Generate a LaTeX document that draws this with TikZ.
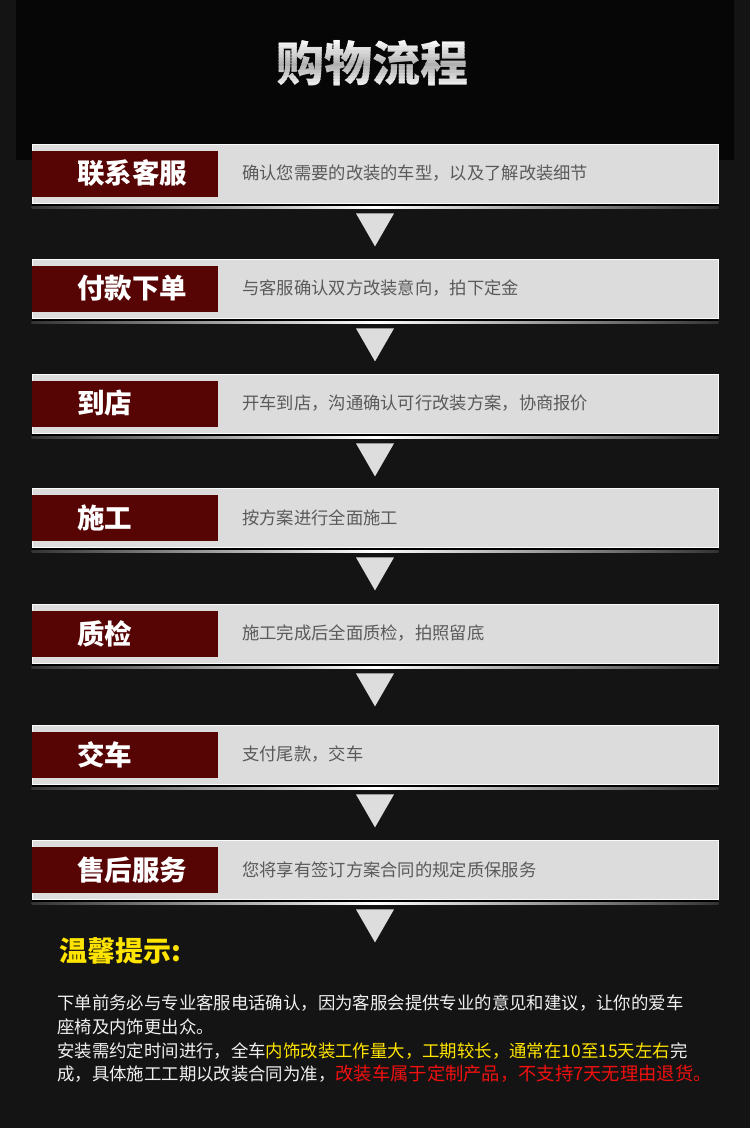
\documentclass[tikz,border=0pt]{standalone}
\usepackage{fontspec}
\newfontfamily\cjk{Noto Sans CJK SC}
\usetikzlibrary{calc}
\definecolor{bgdark}{HTML}{141414}
\definecolor{topblack}{HTML}{060606}
\definecolor{labred}{HTML}{560404}
\definecolor{lightbox}{HTML}{DCDCDC}
\definecolor{desccol}{HTML}{5A5A5A}
\definecolor{arrowcol}{HTML}{DDDDDD}
\definecolor{tipyellow}{HTML}{FFE400}
\definecolor{tipred}{HTML}{F01010}
\definecolor{tipwhite}{HTML}{F0F0F0}
\tikzset{
  stepbox/.style={fill=lightbox, draw=white!90!lightbox, line width=0.8pt, inner sep=0pt, minimum width=686pt, minimum height=59pt},
  redbox/.style={fill=labred, inner sep=0pt, minimum width=186pt, minimum height=46pt},
  labtext/.style={inner sep=0pt, text=white, font=\cjk\bfseries\fontsize{27.5}{30}\selectfont},
  desctext/.style={inner sep=0pt, text=desccol, font=\cjk\fontsize{17.3}{20}\selectfont},
  titletext/.style={inner sep=0pt, font=\cjk\bfseries\fontsize{48}{52}\selectfont},
  tiptext/.style={inner sep=0pt, text=tipwhite, font=\cjk\fontsize{17.4}{20}\selectfont},
  arrowtri/.style={fill=arrowcol}
}
\begin{document}
\begin{tikzpicture}[x=1pt,y=-1pt]
\useasboundingbox (0,0) rectangle (750,1128);
\fill[bgdark] (0,0) rectangle (750,1128);
\fill[topblack] (16,0) rectangle (734,160);
% title with metallic banding
\foreach \k in {0,...,15}{
  \pgfmathsetmacro\yy{38+\k*3.2}
  \pgfmathsetmacro\p{100-62*(1-abs(\k-8)/8)}
  \begin{scope}
    \clip (240,\yy) rectangle (510,\yy+3.3);
    \node[titletext, text=white!\p!gray] (title\k) at (372,63) {购物流程};
  \end{scope}
}
\foreach \i/\t/\lab/\desc in {
 1/144/联系客服/确认您需要的改装的车型，以及了解改装细节,
 2/259/付款下单/与客服确认双方改装意向，拍下定金,
 3/374/到店/开车到店，沟通确认可行改装方案，协商报价,
 4/488/施工/按方案进行全面施工,
 5/604/质检/施工完成后全面质检，拍照留底,
 6/725/交车/支付尾款，交车,
 7/840/售后服务/您将享有签订方案合同的规定质保服务}{
  \node[stepbox] (box\i) at (375,\t+29.5) {};
  \node[redbox, anchor=west] (lab\i) at (32,\t+29.5) {};
  \node[labtext, anchor=west] (labt\i) at (77,\t+29.5) {\lab};
  \node[desctext, anchor=west] (desc\i) at (242,\t+29.5) {\desc};
  \fill[black] ($(box\i.south west)+(0,0.5)$) rectangle ($(box\i.south east)+(0,6)$);
  \shade[left color=gray!40!black, right color=gray!40!black, middle color=white]
     ($(box\i.south west)+(0,3)$) rectangle ($(box\i.south east)+(0,4.8)$);
  \coordinate (arr\i) at ($(box\i.south)+(0,10)$);
  \fill[arrowtri] ($(arr\i)+(-19,0)$) -- ($(arr\i)+(19,0)$) -- ($(arr\i)+(0,33)$) -- cycle;
}
% tip
\node[inner sep=0pt, anchor=west, text=tipyellow, font=\cjk\bfseries\fontsize{28}{30}\selectfont] (tiphead) at (59,951) {温馨提示:};
\node[tiptext, anchor=west] (tip1) at (57,1003) {下单前务必与专业客服电话确认，因为客服会提供专业的意见和建议，让你的爱车};
\node[tiptext, anchor=west] (tip2) at (57,1027) {座椅及内饰更出众。};
\node[tiptext, anchor=west] (tip3) at (57,1051) {安装需约定时间进行，全车\textcolor{tipyellow}{内饰改装工作量大，工期较长，通常在10至15天左右}完};
\node[tiptext, anchor=west] (tip4) at (57,1074) {成，具体施工工期以改装合同为准，{\color{tipred}\fontsize{18.3}{20}\selectfont 改装车属于定制产品，不支持7天无理由退货。}};
\end{tikzpicture}
\end{document}
